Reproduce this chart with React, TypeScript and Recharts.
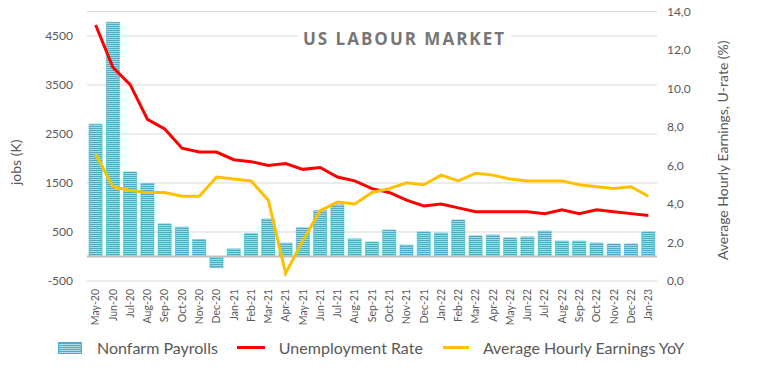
import {
  Bar,
  CartesianGrid,
  ComposedChart,
  Line,
  ReferenceLine,
  XAxis,
  YAxis,
} from "recharts";

const months = [
  "May-20", "Jun-20", "Jul-20", "Aug-20", "Sep-20", "Oct-20", "Nov-20", "Dec-20",
  "Jan-21", "Feb-21", "Mar-21", "Apr-21", "May-21", "Jun-21", "Jul-21", "Aug-21",
  "Sep-21", "Oct-21", "Nov-21", "Dec-21", "Jan-22", "Feb-22", "Mar-22", "Apr-22",
  "May-22", "Jun-22", "Jul-22", "Aug-22", "Sep-22", "Oct-22", "Nov-22", "Dec-22",
  "Jan-23",
];

// nonfarm payrolls, thousands
const payrolls = [
  2700, 4780, 1725, 1490, 665, 600, 345, -230,
  155, 465, 765, 275, 585, 935, 1055, 360,
  295, 540, 235, 500, 480, 745, 420, 440,
  380, 400, 520, 315, 315, 275, 255, 255,
  500,
];

// unemployment rate, %
const unemployment = [
  13.3, 11.1, 10.2, 8.4, 7.9, 6.9, 6.7, 6.7,
  6.3, 6.2, 6.0, 6.1, 5.8, 5.9, 5.4, 5.2,
  4.8, 4.6, 4.2, 3.9, 4.0, 3.8, 3.6, 3.6,
  3.6, 3.6, 3.5, 3.7, 3.5, 3.7, 3.6, 3.5,
  3.4,
];

// average hourly earnings YoY, %
const earnings = [
  6.6, 4.9, 4.7, 4.6, 4.6, 4.4, 4.4, 5.4,
  5.3, 5.2, 4.2, 0.4, 2.1, 3.65, 4.1, 4.0,
  4.6, 4.8, 5.1, 5.0, 5.5, 5.2, 5.6, 5.5,
  5.3, 5.2, 5.2, 5.2, 5.0, 4.9, 4.8, 4.9,
  4.4,
];

const leftTicks = [-500, 500, 1500, 2500, 3500, 4500];
const rightTicks = [0, 2, 4, 6, 8, 10, 12, 14];

const data = months.map((m, i) => ({
  month: m,
  payrolls: payrolls[i],
  unemployment: unemployment[i],
  earnings: earnings[i],
}));

const TEXT = "#595959";
const BLUE = "#4aacc6";
const LIGHT = "#b3dce8";
const RED = "#ff0000";
const GOLD = "#ffc000";
const FONT = "Lato, 'Open Sans', sans-serif";

function MonthTick({ x, y, payload }: any) {
  return (
    <text
      transform={`translate(${x},${y + 6}) rotate(-90)`}
      textAnchor="end"
      dy="0.35em"
      fontSize={10.5}
      fontFamily={FONT}
      fill={TEXT}
    >
      {payload.value}
    </text>
  );
}

export default function App() {
  return (
    <div style={{ position: "absolute", left: 0, top: 0, width: 763, height: 378, background: "#fff" }}>
      <svg width={0} height={0} style={{ position: "absolute" }}>
        <defs>
          <pattern id="nfpStripes" width={4} height={2} patternUnits="userSpaceOnUse">
            <rect width={4} height={2} fill={LIGHT} />
            <rect width={4} height={1.1} fill={BLUE} />
          </pattern>
        </defs>
      </svg>
      <ComposedChart
        width={763}
        height={378}
        data={data}
        margin={{ top: 11.5, right: 0, bottom: 0, left: 0 }}
        barCategoryGap="12%"
      >
        <CartesianGrid vertical={false} stroke="#d9d9d9" yAxisId="left" />
        <XAxis
          dataKey="month"
          interval={0}
          height={97}
          axisLine={false}
          tickLine={false}
          tickSize={0}
          tick={<MonthTick />}
        />
        <YAxis
          yAxisId="left"
          width={87}
          domain={[-500, 5000]}
          ticks={leftTicks}
          axisLine={false}
          tickLine={false}
          tickSize={0}
          tickMargin={14}
          tick={{ fontSize: 12, fill: TEXT, fontFamily: FONT }}
          label={{
            content: ({ viewBox }: any) => (
              <text
                transform={`translate(${viewBox.x + 16},${viewBox.y + viewBox.height / 2 + 16}) rotate(-90)`}
                textAnchor="middle"
                dy="0.35em"
                fontSize={14}
                fontFamily={FONT}
                fill={TEXT}
              >
                jobs (K)
              </text>
            ),
          }}
        />
        <YAxis
          yAxisId="right"
          orientation="right"
          width={106}
          domain={[0, 14]}
          ticks={rightTicks}
          axisLine={false}
          tickLine={false}
          tickSize={0}
          tickMargin={10}
          tickFormatter={(v: number) => v.toFixed(1).replace(".", ",")}
          tick={{ fontSize: 12, fill: TEXT, fontFamily: FONT }}
          label={{
            content: ({ viewBox }: any) => (
              <text
                transform={`translate(${viewBox.x + 66},${viewBox.y + viewBox.height / 2 + 4}) rotate(-90)`}
                textAnchor="middle"
                dy="0.35em"
                fontSize={14}
                fontFamily={FONT}
                fill={TEXT}
              >
                Average Hourly Earnings, U-rate (%)
              </text>
            ),
          }}
        />
        <Bar
          yAxisId="left"
          dataKey="payrolls"
          fill="url(#nfpStripes)"
          stroke={BLUE}
          strokeWidth={0.6}
          isAnimationActive={false}
        />
        <ReferenceLine yAxisId="left" y={0} stroke="#bfbfbf" strokeWidth={2} />
        <Line
          yAxisId="right"
          dataKey="unemployment"
          stroke={RED}
          strokeWidth={3}
          dot={false}
          isAnimationActive={false}
        />
        <Line
          yAxisId="right"
          dataKey="earnings"
          stroke={GOLD}
          strokeWidth={3}
          dot={false}
          isAnimationActive={false}
        />
      </ComposedChart>

      <div
        style={{
          position: "absolute",
          left: 298,
          top: 29,
          width: 213,
          height: 20,
          lineHeight: "20px",
          background: "#fff",
          textAlign: "center",
          fontFamily: "'Open Sans', sans-serif",
          fontWeight: 700,
          fontSize: 17,
          letterSpacing: 2,
          color: "#767676",
        }}
      >
        US LABOUR MARKET
      </div>

      <div
        style={{
          position: "absolute",
          left: 58,
          top: 338,
          display: "flex",
          alignItems: "center",
          fontFamily: FONT,
          fontSize: 16,
          color: TEXT,
          whiteSpace: "nowrap",
        }}
      >
        <span
          style={{
            width: 24,
            height: 12,
            background: `repeating-linear-gradient(to bottom, ${BLUE} 0px, ${BLUE} 1px, ${LIGHT} 1px, ${LIGHT} 2px)`,
            border: `0.5px solid ${BLUE}`,
            boxSizing: "border-box",
          }}
        />
        <span style={{ marginLeft: 15 }}>Nonfarm Payrolls</span>
        <span style={{ marginLeft: 19, width: 28, height: 3, background: RED }} />
        <span style={{ marginLeft: 14 }}>Unemployment Rate</span>
        <span style={{ marginLeft: 20, width: 26, height: 3, background: GOLD }} />
        <span style={{ marginLeft: 14 }}>Average Hourly Earnings YoY</span>
      </div>
    </div>
  );
}
